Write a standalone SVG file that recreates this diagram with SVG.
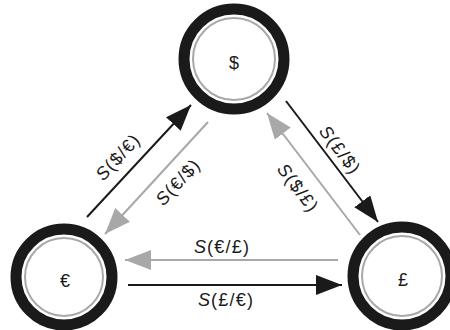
<svg xmlns="http://www.w3.org/2000/svg" width="450" height="330" viewBox="0 0 450 330">
<style>
.ring{fill:#fff;stroke:#1a1a1a;stroke-width:11}
.inner{fill:none;stroke:#a8a8a8;stroke-width:2}
.sym{font-family:"Liberation Sans",Arial,sans-serif;font-size:18px;fill:#1a1a1a;text-anchor:middle}
.lbl{font-family:"Liberation Sans",Arial,sans-serif;font-size:18px;fill:#1a1a1a;text-anchor:middle;letter-spacing:1.2px}
.blk{stroke:#1a1a1a;stroke-width:2;fill:none}
.gry{stroke:#a8a8a8;stroke-width:2;fill:none}
</style>
<defs>
<marker id="ab" viewBox="0 0 10 10" refX="10" refY="5" markerWidth="26" markerHeight="20" markerUnits="userSpaceOnUse" orient="auto" preserveAspectRatio="none"><path d="M0,0L10,5L0,10z" fill="#1a1a1a"/></marker>
<marker id="ag" viewBox="0 0 10 10" refX="10" refY="5" markerWidth="26" markerHeight="20" markerUnits="userSpaceOnUse" orient="auto" preserveAspectRatio="none"><path d="M0,0L10,5L0,10z" fill="#a8a8a8"/></marker>
</defs>
<g id="connectors">
<line class="blk" x1="87" y1="217" x2="191" y2="105" marker-end="url(#ab)"/>
<line class="gry" x1="208" y1="122" x2="105" y2="234" marker-end="url(#ag)"/>
<line class="blk" x1="286" y1="101" x2="378" y2="222" marker-end="url(#ab)"/>
<line class="gry" x1="360" y1="235" x2="267" y2="113" marker-end="url(#ag)"/>
<line class="gry" x1="338" y1="260" x2="125" y2="260" marker-end="url(#ag)"/>
<line class="blk" x1="128" y1="285" x2="342" y2="285" marker-end="url(#ab)"/>
<text class="lbl" transform="translate(118,157) rotate(-47)" y="6"><tspan font-style="italic">S</tspan>($/€)</text>
<text class="lbl" transform="translate(178,182) rotate(-47)" y="6"><tspan font-style="italic">S</tspan>(€/$)</text>
<text class="lbl" transform="translate(340,150) rotate(53)" y="6"><tspan font-style="italic">S</tspan>(£/$)</text>
<text class="lbl" transform="translate(298,188) rotate(53)" y="6"><tspan font-style="italic">S</tspan>($/£)</text>
<text class="lbl" x="222" y="253"><tspan font-style="italic">S</tspan>(€/£)</text>
<text class="lbl" x="226" y="306"><tspan font-style="italic">S</tspan>(£/€)</text>
</g>
<g id="node-usd">
<circle class="ring" cx="234" cy="59" r="50"/>
<circle class="inner" cx="234" cy="59" r="41"/>
<text class="sym" x="234" y="69">$</text>
</g>
<g id="node-eur">
<circle class="ring" cx="64" cy="277" r="48"/>
<circle class="inner" cx="64" cy="277" r="39"/>
<text class="sym" x="65" y="287">€</text>
</g>
<g id="node-gbp">
<circle class="ring" cx="402" cy="276" r="49"/>
<circle class="inner" cx="402" cy="276" r="40"/>
<text class="sym" x="403" y="286">£</text>
</g>
</svg>
